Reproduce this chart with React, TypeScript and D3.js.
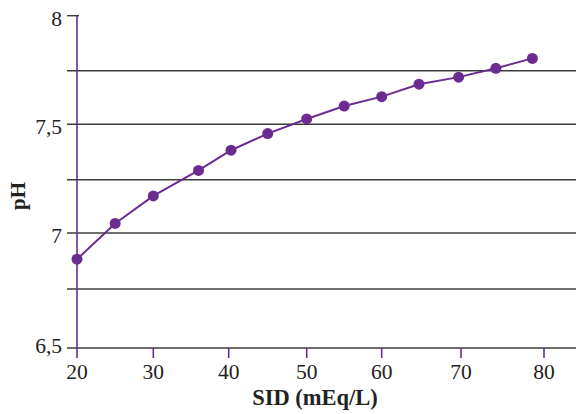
import React from 'react';
import * as d3 from 'd3';

// SID (mEq/L) vs pH
const sid = [20, 25, 30, 36, 40.3, 45, 50, 55, 60, 64.7, 69.7, 74.2, 78.6];
const ph = [6.883, 7.045, 7.174, 7.292, 7.383, 7.458, 7.525, 7.585, 7.629, 7.687, 7.72, 7.761, 7.806];

const xTicks = [20, 30, 40, 50, 60, 70, 80];
const yTicks = [6.5, 7, 7.5, 8];
const yTickLabels = ['6,5', '7', '7,5', '8'];
const gridValues = [6.75, 7, 7.25, 7.5, 7.75];

const WIDTH = 576;
const HEIGHT = 414;
const PURPLE = '#6b2c91';
const GRID = '#3c3c3c';
const FONT = '"Liberation Serif", "Times New Roman", serif';

export default function App() {
  // the printed axes are not quite evenly spaced, so the scales follow the ticks
  const x = d3.scaleLinear()
    .domain(xTicks)
    .range([77, 153.3, 228.7, 306.7, 381.7, 461, 544]);
  const y = d3.scaleLinear()
    .domain([6.5, 6.75, 7, 7.25, 7.5, 7.75, 8])
    .range([348, 289, 233, 179.7, 124.3, 70.7, 15.7]);

  const points = sid.map((s, i) => [s, ph[i]] as [number, number]);
  const line = d3.line<[number, number]>()
    .x(d => x(d[0]))
    .y(d => y(d[1]));

  const x0 = x(20);
  const left = 67;

  return (
    <svg
      width={WIDTH}
      height={HEIGHT}
      style={{ position: 'absolute', left: 0, top: 0, background: '#fff' }}
      fontFamily={FONT}
    >
      {/* horizontal grid */}
      {gridValues.map(v => (
        <line key={v} x1={left} x2={WIDTH} y1={y(v)} y2={y(v)} stroke={GRID} strokeWidth={1.4} />
      ))}
      {/* x axis line */}
      <line x1={left} x2={WIDTH} y1={y(6.5)} y2={y(6.5)} stroke={GRID} strokeWidth={1.4} />
      {/* tick at 8 */}
      <line x1={left} x2={79} y1={y(8)} y2={y(8)} stroke={GRID} strokeWidth={1.4} />

      {/* y axis */}
      <line x1={x0} x2={x0} y1={y(8)} y2={y(6.5) + 10} stroke={PURPLE} strokeWidth={1.6} />
      {xTicks.slice(1).map(t => (
        <line key={t} x1={x(t)} x2={x(t)} y1={y(6.5)} y2={y(6.5) + 10} stroke={PURPLE} strokeWidth={1.6} />
      ))}

      {/* tick labels */}
      {yTicks.map((t, i) => (
        <text key={t} x={62} y={y(t) + (t === 6.5 ? 5 : 10)} textAnchor="end" fontSize={21.5} fill="#222">
          {yTickLabels[i]}
        </text>
      ))}
      {xTicks.map(t => (
        <text key={t} x={x(t)} y={379} textAnchor="middle" fontSize={21.5} fill="#222">
          {t}
        </text>
      ))}

      {/* axis titles */}
      <text x={315} y={405} textAnchor="middle" fontSize={22.5} fontWeight="bold" fill="#222">
        SID (mEq/L)
      </text>
      <text
        transform={`translate(25, 196) rotate(-90)`}
        textAnchor="middle"
        fontSize={21}
        fontWeight="bold"
        fill="#222"
      >
        pH
      </text>

      {/* series */}
      <path d={line(points) ?? ''} fill="none" stroke={PURPLE} strokeWidth={2} />
      {points.map((d, i) => (
        <circle key={i} cx={x(d[0])} cy={y(d[1])} r={5.5} fill={PURPLE} />
      ))}
    </svg>
  );
}
